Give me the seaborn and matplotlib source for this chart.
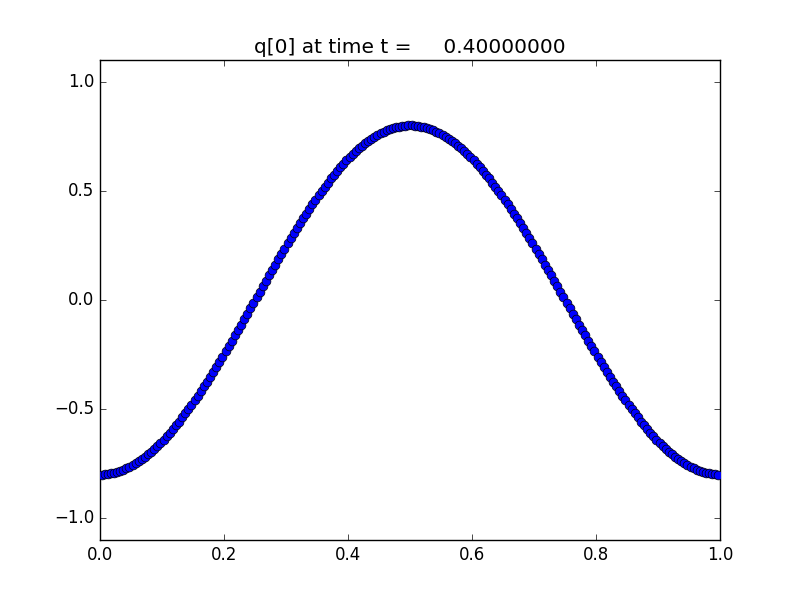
import numpy as np
import matplotlib
matplotlib.use("Agg")
import matplotlib.pyplot as plt
import seaborn as sns

# cell centers on the [0, 1] grid (200 cells)
x_centers = np.linspace(0.0025, 0.9975, 200)

# q[0] values, left to right
q0 = [
    -0.800, -0.799, -0.798, -0.795, -0.792, -0.788, -0.783, -0.778, -0.772, -0.765,
    -0.757, -0.748, -0.739, -0.729, -0.718, -0.707, -0.695, -0.682, -0.669, -0.655,
    -0.640, -0.624, -0.608, -0.592, -0.575, -0.557, -0.538, -0.520, -0.500, -0.480,
    -0.460, -0.439, -0.418, -0.396, -0.374, -0.352, -0.329, -0.306, -0.283, -0.259,
    -0.235, -0.211, -0.187, -0.162, -0.138, -0.113, -0.088, -0.063, -0.038, -0.013,
    0.013, 0.038, 0.063, 0.088, 0.113, 0.138, 0.162, 0.187, 0.211, 0.235,
    0.259, 0.283, 0.306, 0.329, 0.352, 0.374, 0.396, 0.418, 0.439, 0.460,
    0.480, 0.500, 0.520, 0.538, 0.557, 0.575, 0.592, 0.608, 0.624, 0.640,
    0.655, 0.669, 0.682, 0.695, 0.707, 0.718, 0.729, 0.739, 0.748, 0.757,
    0.765, 0.772, 0.778, 0.783, 0.788, 0.792, 0.795, 0.798, 0.799, 0.800,
    0.800, 0.799, 0.798, 0.795, 0.792, 0.788, 0.783, 0.778, 0.772, 0.765,
    0.757, 0.748, 0.739, 0.729, 0.718, 0.707, 0.695, 0.682, 0.669, 0.655,
    0.640, 0.624, 0.608, 0.592, 0.575, 0.557, 0.538, 0.520, 0.500, 0.480,
    0.460, 0.439, 0.418, 0.396, 0.374, 0.352, 0.329, 0.306, 0.283, 0.259,
    0.235, 0.211, 0.187, 0.162, 0.138, 0.113, 0.088, 0.063, 0.038, 0.013,
    -0.013, -0.038, -0.063, -0.088, -0.113, -0.138, -0.162, -0.187, -0.211, -0.235,
    -0.259, -0.283, -0.306, -0.329, -0.352, -0.374, -0.396, -0.418, -0.439, -0.460,
    -0.480, -0.500, -0.520, -0.538, -0.557, -0.575, -0.592, -0.608, -0.624, -0.640,
    -0.655, -0.669, -0.682, -0.695, -0.707, -0.718, -0.729, -0.739, -0.748, -0.757,
    -0.765, -0.772, -0.778, -0.783, -0.788, -0.792, -0.795, -0.798, -0.799, -0.800,
]

y_ticks = [-1.0, -0.5, 0.0, 0.5, 1.0]
x_ticks = [0.0, 0.2, 0.4, 0.6, 0.8, 1.0]

plt.style.use("classic")
plt.rcParams["font.family"] = ["DejaVu Sans"]

fig = plt.figure(figsize=(8, 6), dpi=100, facecolor="white")
ax = fig.add_subplot(111)

sns.scatterplot(x=x_centers, y=q0, ax=ax, color="blue", edgecolor="black",
                linewidth=0.5, s=40, marker="o", zorder=3)

ax.set_xlim(0, 1)
ax.set_ylim(-1.1, 1.1)
ax.set_xticks(x_ticks)
ax.set_yticks(y_ticks)
ax.set_title("q[0] at time t =     0.40000000", fontsize=14.5)

fig.savefig("out.png", dpi=100, facecolor="white")
